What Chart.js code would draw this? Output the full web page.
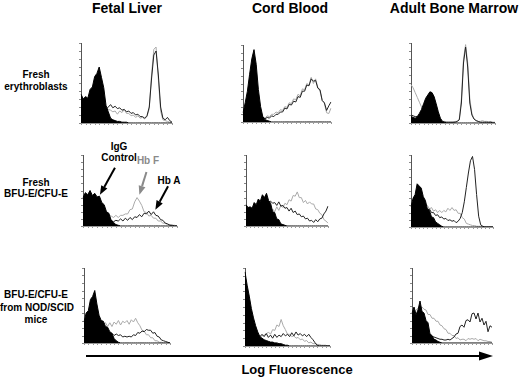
<!DOCTYPE html>
<html>
<head>
<meta charset="utf-8">
<script src="https://cdn.jsdelivr.net/npm/chart.js@4.4.0/dist/chart.umd.min.js"></script>
<style>
  body { margin: 0; width: 520px; height: 379px; position: relative; overflow: hidden; background: #fff;
         font-family: "Liberation Sans", Arial, sans-serif; font-weight: bold; color: #000; }
  .lbl { position: absolute; text-align: center; white-space: nowrap; }
  .title { font-size: 14px; line-height: 16px; top: 0; width: 160px; }
  .row { font-size: 10px; line-height: 12px; left: 0; width: 72px; }
  .note { font-size: 10px; line-height: 11px; width: 50px; }
  canvas, svg { position: absolute; }
</style>
</head>
<body>

<div class="lbl title" style="left:47px">Fetal Liver</div>
<div class="lbl title" style="left:210px">Cord Blood</div>
<div class="lbl title" style="left:374px">Adult Bone Marrow</div>

<div class="lbl row" style="top:69px">Fresh<br>erythroblasts</div>
<div class="lbl row" style="top:177px;line-height:11px">Fresh<br>BFU-E/CFU-E</div>
<div class="lbl row" style="top:289px;line-height:12.5px">BFU-E/CFU-E<br>from NOD/SCID<br>mice</div>

<div class="lbl note" style="left:94px;top:141px">IgG<br>Control</div>
<div class="lbl note" style="left:123px;top:155px;color:#8a8a8a">Hb F</div>
<div class="lbl note" style="left:144px;top:175px">Hb A</div>

<svg width="520" height="379" style="left:0;top:0">
  <line x1="86" y1="356" x2="481" y2="356" stroke="#000" stroke-width="2"/>
  <polygon points="479,351.5 493,356 479,360.5" fill="#000"/>
</svg>
<div class="lbl" style="left:217px;top:362px;width:160px;font-size:13px;line-height:16px">Log Fluorescence</div>

<script>
// channel index along the log fluorescence axis
const channels = [0, 1, 2, 3, 4, 5, 6, 7, 8, 9, 10, 11, 12, 13, 14, 15, 16, 17, 18, 19, 20,
                  21, 22, 23, 24, 25, 26, 27, 28, 29, 30, 31, 32, 33, 34, 35, 36, 37, 38, 39, 40];

// Fresh erythroblasts
const fetalEryIgG = [36, 30, 33, 31, 42, 45, 58, 62, 70, 57, 44, 22, 14, 6, 4, 3, 2, 2, 1, 1, 1,
                     0, 0, 0, 0, 0, 0, 0, 0, 0, 0, 0, 0, 0, 0, 0, 0, 0, 0, 0, 0];
const fetalEryHbF = [30, 25, 26, 19, 18, 14, 14, 11, 12, 10, 13, 13, 17, 16, 14, 15, 11, 15, 13, 17, 12,
                     12, 9, 10, 7, 9, 6, 7, 5, 8, 18, 60, 92, 95, 55, 15, 4, 3, 2, 1, 0];
const fetalEryHbA = [30, 28, 25, 22, 20, 18, 16, 15, 14, 14, 15, 17, 20, 23, 19, 21, 18, 19, 16, 17, 14,
                     15, 12, 13, 10, 11, 8, 8, 6, 9, 20, 55, 85, 90, 60, 20, 6, 4, 7, 3, 1];

const cordEryIgG = [12, 25, 40, 62, 82, 94, 75, 42, 20, 7, 3, 2, 1, 0, 0, 0, 0, 0, 0, 0, 0,
                    0, 0, 0, 0, 0, 0, 0, 0, 0, 0, 0, 0, 0, 0, 0, 0, 0, 0, 0, 0];
const cordEryHbF = [8, 14, 11, 10, 8, 9, 6, 7, 5, 6, 5, 8, 7, 10, 10, 13, 12, 16, 15, 20, 19,
                    25, 24, 30, 29, 36, 34, 43, 42, 50, 48, 58, 50, 56, 45, 40, 28, 24, 12, 11, 18];
const cordEryHbA = [10, 13, 14, 11, 10, 12, 8, 9, 6, 7, 4, 6, 5, 8, 7, 10, 10, 13, 13, 18, 17,
                    23, 22, 27, 26, 33, 32, 40, 40, 48, 47, 56, 53, 54, 44, 42, 28, 25, 15, 21, 26];

const adultEryIgG = [8, 7, 6, 8, 12, 17, 24, 31, 35, 39, 38, 33, 24, 14, 6, 2, 1, 0, 0, 0, 0,
                     0, 0, 0, 0, 0, 0, 0, 0, 0, 0, 0, 0, 0, 0, 0, 0, 0, 0, 0, 0];
const adultEryHbF = [48, 44, 38, 32, 26, 20, 15, 11, 8, 6, 5, 4, 3, 3, 2, 2, 2, 1, 1, 1, 1,
                     2, 2, 5, 30, 80, 98, 75, 30, 12, 5, 3, 2, 2, 3, 2, 2, 1, 2, 1, 1];
const adultEryHbA = [10, 9, 8, 8, 7, 6, 5, 4, 3, 3, 2, 2, 2, 1, 1, 1, 1, 1, 1, 1, 1,
                     1, 2, 4, 25, 75, 95, 70, 25, 10, 5, 3, 2, 1, 1, 1, 1, 1, 1, 0, 0];

// Fresh BFU-E/CFU-E
const fetalBfuIgG = [40, 47, 44, 50, 43, 46, 41, 42, 33, 30, 20, 18, 8, 5, 2, 1, 0, 0, 0, 0, 0,
                     0, 0, 0, 0, 0, 0, 0, 0, 0, 0, 0, 0, 0, 0, 0, 0, 0, 0, 0, 0];
const fetalBfuHbF = [35, 38, 36, 33, 30, 27, 24, 22, 20, 18, 16, 15, 14, 12, 15, 12, 15, 15, 17, 17, 23,
                     24, 34, 40, 35, 29, 20, 19, 14, 15, 11, 11, 7, 7, 4, 4, 2, 2, 1, 1, 0];
const fetalBfuHbA = [30, 28, 25, 22, 20, 17, 15, 13, 11, 10, 9, 7, 8, 6, 8, 7, 10, 7, 11, 8, 12,
                     9, 13, 12, 16, 13, 18, 17, 21, 16, 20, 15, 14, 9, 8, 4, 3, 1, 1, 0, 0];

const cordBfuIgG = [30, 26, 27, 25, 33, 30, 38, 35, 44, 40, 46, 36, 32, 20, 19, 10, 9, 3, 2, 1, 0,
                    0, 0, 0, 0, 0, 0, 0, 0, 0, 0, 0, 0, 0, 0, 0, 0, 0, 0, 0, 0];
const cordBfuHbF = [5, 7, 9, 11, 12, 14, 15, 16, 17, 18, 20, 23, 19, 24, 20, 27, 22, 29, 26, 32, 30,
                    37, 35, 43, 42, 48, 40, 40, 33, 36, 31, 34, 31, 31, 24, 23, 18, 16, 9, 7, 4];
const cordBfuHbA = [8, 10, 12, 14, 16, 18, 22, 26, 30, 33, 37, 33, 35, 32, 33, 29, 34, 28, 29, 25, 26,
                    21, 25, 19, 21, 16, 17, 13, 14, 10, 11, 7, 8, 5, 9, 6, 10, 11, 17, 21, 28];

const adultBfuIgG = [28, 40, 45, 60, 57, 54, 42, 37, 25, 23, 14, 13, 7, 5, 3, 1, 0, 0, 0, 0, 0,
                     0, 0, 0, 0, 0, 0, 0, 0, 0, 0, 0, 0, 0, 0, 0, 0, 0, 0, 0, 0];
const adultBfuHbF = [30, 33, 36, 38, 35, 34, 32, 29, 30, 25, 27, 22, 24, 20, 23, 20, 23, 21, 26, 23, 27,
                     23, 24, 19, 19, 13, 11, 5, 4, 3, 2, 2, 1, 1, 1, 1, 0, 0, 0, 0, 0];
const adultBfuHbA = [25, 28, 30, 32, 31, 29, 27, 26, 24, 25, 20, 20, 16, 17, 13, 14, 11, 12, 9, 10, 8,
                     9, 6, 8, 12, 20, 35, 55, 75, 92, 98, 80, 45, 15, 3, 1, 0, 0, 0, 0, 0];

// BFU-E/CFU-E from NOD/SCID mice
const fetalNodIgG = [28, 40, 43, 58, 62, 70, 52, 37, 30, 29, 22, 21, 15, 13, 6, 3, 1, 0, 0, 0, 0,
                     0, 0, 0, 0, 0, 0, 0, 0, 0, 0, 0, 0, 0, 0, 0, 0, 0, 0, 0, 0];
const fetalNodHbF = [20, 22, 24, 25, 26, 27, 28, 27, 26, 25, 27, 22, 27, 22, 28, 25, 30, 24, 29, 27, 30,
                     25, 31, 28, 33, 27, 23, 17, 16, 11, 11, 7, 7, 3, 3, 1, 1, 0, 0, 0, 0];
const fetalNodHbA = [15, 16, 18, 17, 16, 15, 14, 14, 13, 15, 12, 13, 12, 13, 10, 12, 10, 11, 8, 9, 8,
                     9, 8, 11, 10, 14, 13, 16, 15, 18, 17, 17, 13, 14, 9, 8, 4, 3, 2, 1, 0];

const cordNodIgG = [95, 78, 64, 48, 36, 26, 18, 12, 10, 8, 7, 6, 5, 5, 4, 4, 3, 3, 2, 1, 1,
                    0, 0, 0, 0, 0, 0, 0, 0, 0, 0, 0, 0, 0, 0, 0, 0, 0, 0, 0, 0];
const cordNodHbF = [30, 25, 20, 16, 14, 12, 11, 12, 13, 14, 15, 18, 15, 21, 20, 27, 25, 34, 26, 21, 15,
                    15, 12, 13, 10, 11, 8, 9, 6, 7, 4, 5, 3, 3, 2, 2, 1, 1, 1, 0, 0];
const cordNodHbA = [20, 18, 14, 12, 11, 10, 13, 12, 15, 12, 16, 11, 14, 10, 15, 11, 14, 12, 16, 13, 15,
                    12, 17, 13, 18, 14, 16, 13, 15, 12, 15, 11, 8, 4, 1, 0, 0, 0, 0, 0, 0];

const adultNodIgG = [40, 48, 38, 44, 56, 42, 40, 30, 27, 12, 10, 5, 4, 2, 1, 0, 0, 0, 0, 0, 0,
                     0, 0, 0, 0, 0, 0, 0, 0, 0, 0, 0, 0, 0, 0, 0, 0, 0, 0, 0, 0];
const adultNodHbF = [35, 40, 44, 46, 47, 48, 45, 44, 38, 38, 33, 33, 29, 29, 24, 23, 19, 18, 13, 13, 10,
                     10, 6, 7, 4, 5, 5, 3, 6, 5, 6, 5, 6, 3, 5, 4, 3, 3, 2, 2, 1];
const adultNodHbA = [30, 28, 25, 22, 20, 18, 16, 14, 12, 10, 9, 8, 7, 6, 5, 5, 4, 4, 5, 4, 6,
                     8, 12, 13, 22, 24, 21, 30, 31, 28, 39, 40, 32, 40, 28, 33, 24, 29, 15, 23, 21];

// arrows in the fresh fetal BFU-E/CFU-E panel, in [channel, % of max] units
const noteArrows = [
  { from: [13.6, 82], to: [7.2, 44], color: '#000' },
  { from: [27.0, 76], to: [24.0, 44], color: '#8a8a8a' },
  { from: [36.2, 56], to: [30.8, 23], color: '#000' }
];

// layout of the nine panels (left = y axis position, top = top of y axis)
const panels = [
  { left: 81,  top: 43,  width: 91, height: 80, igg: fetalEryIgG, hbF: fetalEryHbF, hbA: fetalEryHbA },
  { left: 243, top: 45,  width: 88, height: 77, igg: cordEryIgG,  hbF: cordEryHbF,  hbA: cordEryHbA },
  { left: 411, top: 43,  width: 84, height: 80, igg: adultEryIgG, hbF: adultEryHbF, hbA: adultEryHbA },
  { left: 83,  top: 155, width: 94, height: 71, igg: fetalBfuIgG, hbF: fetalBfuHbF, hbA: fetalBfuHbA, notes: true },
  { left: 246, top: 155, width: 82, height: 71, igg: cordBfuIgG,  hbF: cordBfuHbF,  hbA: cordBfuHbA },
  { left: 411, top: 155, width: 82, height: 72, igg: adultBfuIgG, hbF: adultBfuHbF, hbA: adultBfuHbA },
  { left: 84,  top: 268, width: 86, height: 75, igg: fetalNodIgG, hbF: fetalNodHbF, hbA: fetalNodHbA },
  { left: 245, top: 268, width: 85, height: 78, igg: cordNodIgG,  hbF: cordNodHbF,  hbA: cordNodHbA },
  { left: 412, top: 268, width: 80, height: 75, igg: adultNodIgG, hbF: adultNodHbF, hbA: adultNodHbA }
];

const PAD = { left: 4, right: 3, top: 3, bottom: 4 };

// thin axes with little ticks, like the cytometer printout
const histAxes = {
  id: 'histAxes',
  beforeDatasetsDraw(chart) {
    const { ctx, chartArea: a, scales: { x, y } } = chart;
    ctx.save();
    ctx.lineWidth = 1;
    ctx.strokeStyle = '#555';
    ctx.beginPath();
    ctx.moveTo(a.left + 0.5, a.top);
    ctx.lineTo(a.left + 0.5, a.bottom);
    ctx.stroke();
    ctx.strokeStyle = '#888';
    ctx.beginPath();
    for (let v = 0; v <= 100; v += 10) {
      const py = Math.round(y.getPixelForValue(v)) + 0.5;
      ctx.moveTo(a.left - 2, py);
      ctx.lineTo(a.left, py);
    }
    ctx.stroke();
    ctx.strokeStyle = '#999';
    ctx.beginPath();
    ctx.moveTo(a.left, a.bottom + 0.5);
    ctx.lineTo(a.right, a.bottom + 0.5);
    for (let i = 0; i < channels.length; i += 2) {
      const px = Math.round(x.getPixelForValue(i)) + 0.5;
      ctx.moveTo(px, a.bottom);
      ctx.lineTo(px, a.bottom + 2);
    }
    ctx.stroke();
    ctx.restore();
  }
};

function drawArrow(ctx, x1, y1, x2, y2, color) {
  const head = 9;
  const ang = Math.atan2(y2 - y1, x2 - x1);
  const bx = x2 - head * Math.cos(ang);
  const by = y2 - head * Math.sin(ang);
  ctx.strokeStyle = color;
  ctx.fillStyle = color;
  ctx.lineWidth = 2;
  ctx.beginPath();
  ctx.moveTo(x1, y1);
  ctx.lineTo(bx, by);
  ctx.stroke();
  ctx.beginPath();
  ctx.moveTo(x2, y2);
  ctx.lineTo(bx + 3.5 * Math.sin(ang), by - 3.5 * Math.cos(ang));
  ctx.lineTo(bx - 3.5 * Math.sin(ang), by + 3.5 * Math.cos(ang));
  ctx.closePath();
  ctx.fill();
}

const noteArrowsPlugin = {
  id: 'noteArrows',
  afterDatasetsDraw(chart) {
    if (!chart.options.plugins.noteArrows) return;
    const { ctx, scales: { x, y } } = chart;
    ctx.save();
    noteArrows.forEach(a => {
      drawArrow(ctx,
        x.getPixelForValue(a.from[0]), y.getPixelForValue(a.from[1]),
        x.getPixelForValue(a.to[0]), y.getPixelForValue(a.to[1]), a.color);
    });
    ctx.restore();
  }
};

panels.forEach(p => {
  const canvas = document.createElement('canvas');
  canvas.width = p.width + PAD.left + PAD.right;
  canvas.height = p.height + PAD.top + PAD.bottom;
  canvas.style.left = (p.left - PAD.left) + 'px';
  canvas.style.top = (p.top - PAD.top) + 'px';
  document.body.appendChild(canvas);

  new Chart(canvas.getContext('2d'), {
    type: 'line',
    data: {
      labels: channels,
      datasets: [
        { label: 'IgG Control', data: p.igg, borderColor: '#000', backgroundColor: '#000', fill: 'origin' },
        { label: 'Hb A', data: p.hbA, borderColor: '#222', fill: false },
        { label: 'Hb F', data: p.hbF, borderColor: '#aaa', fill: false }
      ]
    },
    options: {
      responsive: false,
      animation: false,
      devicePixelRatio: 1,
      layout: { padding: PAD },
      elements: { point: { radius: 0 }, line: { borderWidth: 1, tension: 0 } },
      scales: {
        x: { type: 'category', display: false },
        y: { display: false, min: 0, max: 100 }
      },
      plugins: {
        legend: { display: false },
        tooltip: { enabled: false },
        noteArrows: !!p.notes
      }
    },
    plugins: [histAxes, noteArrowsPlugin]
  });
});
</script>
</body>
</html>
